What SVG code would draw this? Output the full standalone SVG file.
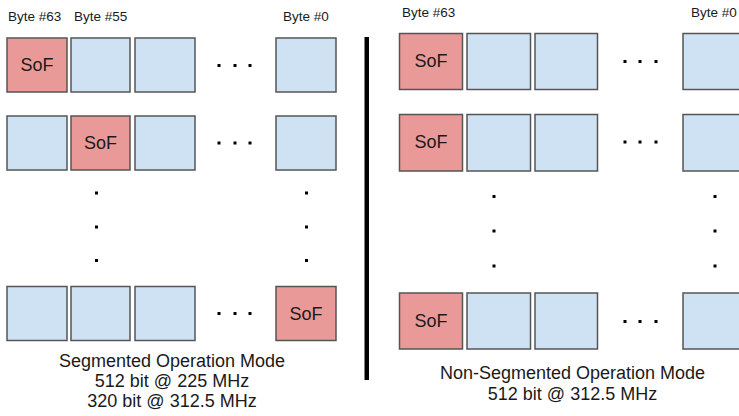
<svg xmlns="http://www.w3.org/2000/svg" width="739" height="416" viewBox="0 0 739 416">
<style>
  text { font-family: "Liberation Sans", Arial, sans-serif; fill: #1a1a1a; }
  .lbl { font-size: 13.5px; }
  .sof-t { font-size: 18px; text-anchor: middle; }
  .cap { font-size: 18px; text-anchor: middle; }
  .sof { fill: #ea9999; stroke: #555; stroke-width: 1.5; }
  .cell { fill: #cfe2f3; stroke: #555; stroke-width: 1.5; }
  .dot { fill: #000; }
</style>
<rect width="739" height="416" fill="#fff"/>

<!-- Left panel: Segmented -->
<g id="left-labels">
  <text class="lbl" x="8" y="21">Byte #63</text>
  <text class="lbl" x="74" y="21">Byte #55</text>
  <text class="lbl" x="283" y="21">Byte #0</text>
</g>
<g id="L-r1c1"><rect class="sof" x="7" y="38" width="60" height="54"/><text class="sof-t" x="37" y="71">SoF</text></g>
<g id="L-r1c2"><rect class="cell" x="71" y="38" width="59" height="54"/></g>
<g id="L-r1c3"><rect class="cell" x="135" y="38" width="60" height="54"/></g>
<g id="L-r1c4"><rect class="cell" x="276" y="38" width="60" height="54"/></g>

<g id="L-r2c1"><rect class="cell" x="7" y="116" width="60" height="54"/></g>
<g id="L-r2c2"><rect class="sof" x="71" y="116" width="59" height="54"/><text class="sof-t" x="100.5" y="149">SoF</text></g>
<g id="L-r2c3"><rect class="cell" x="135" y="116" width="60" height="54"/></g>
<g id="L-r2c4"><rect class="cell" x="276" y="116" width="60" height="54"/></g>

<g id="L-r3c1"><rect class="cell" x="7" y="286.5" width="60" height="54"/></g>
<g id="L-r3c2"><rect class="cell" x="71" y="286.5" width="59" height="54"/></g>
<g id="L-r3c3"><rect class="cell" x="135" y="286.5" width="60" height="54"/></g>
<g id="L-r3c4"><rect class="sof" x="276" y="286.5" width="60" height="54"/><text class="sof-t" x="306" y="319.5">SoF</text></g>

<g id="L-dots">
  <rect class="dot" x="217.5" y="64" width="3" height="3"/>
  <rect class="dot" x="233.5" y="64" width="3" height="3"/>
  <rect class="dot" x="248.5" y="64" width="3" height="3"/>
  <rect class="dot" x="217.5" y="141.5" width="3" height="3"/>
  <rect class="dot" x="233.5" y="141.5" width="3" height="3"/>
  <rect class="dot" x="248.5" y="141.5" width="3" height="3"/>
  <rect class="dot" x="217.5" y="312" width="3" height="3"/>
  <rect class="dot" x="233.5" y="312" width="3" height="3"/>
  <rect class="dot" x="248.5" y="312" width="3" height="3"/>
  <rect class="dot" x="95" y="191.5" width="3" height="3"/>
  <rect class="dot" x="95" y="225.5" width="3" height="3"/>
  <rect class="dot" x="95" y="259" width="3" height="3"/>
  <rect class="dot" x="305" y="191.5" width="3" height="3"/>
  <rect class="dot" x="305" y="225.5" width="3" height="3"/>
  <rect class="dot" x="305" y="259" width="3" height="3"/>
</g>
<g id="left-caption">
  <text class="cap" x="172" y="366.5">Segmented Operation Mode</text>
  <text class="cap" x="172" y="386.5">512 bit @ 225 MHz</text>
  <text class="cap" x="172" y="406.5">320 bit @ 312.5 MHz</text>
</g>

<!-- Divider -->
<g id="divider"><rect x="364.5" y="37" width="4.5" height="343" fill="#000"/></g>

<!-- Right panel: Non-Segmented -->
<g id="right-labels">
  <text class="lbl" x="402" y="16.5">Byte #63</text>
  <text class="lbl" x="691" y="16.5">Byte #0</text>
</g>
<g id="R-r1c1"><rect class="sof" x="399.5" y="33.5" width="63" height="56"/><text class="sof-t" x="431" y="67">SoF</text></g>
<g id="R-r1c2"><rect class="cell" x="467" y="33.5" width="63.5" height="56"/></g>
<g id="R-r1c3"><rect class="cell" x="535" y="33.5" width="62.5" height="56"/></g>
<g id="R-r1c4"><rect class="cell" x="683" y="33.5" width="63" height="56"/></g>

<g id="R-r2c1"><rect class="sof" x="399.5" y="114.5" width="63" height="56.5"/><text class="sof-t" x="431" y="148">SoF</text></g>
<g id="R-r2c2"><rect class="cell" x="467" y="114.5" width="63.5" height="56.5"/></g>
<g id="R-r2c3"><rect class="cell" x="535" y="114.5" width="62.5" height="56.5"/></g>
<g id="R-r2c4"><rect class="cell" x="683" y="114.5" width="63" height="56.5"/></g>

<g id="R-r3c1"><rect class="sof" x="399.5" y="293" width="63" height="56"/><text class="sof-t" x="431" y="326.5">SoF</text></g>
<g id="R-r3c2"><rect class="cell" x="467" y="293" width="63.5" height="56"/></g>
<g id="R-r3c3"><rect class="cell" x="535" y="293" width="62.5" height="56"/></g>
<g id="R-r3c4"><rect class="cell" x="683" y="293" width="63" height="56"/></g>

<g id="R-dots">
  <rect class="dot" x="623.5" y="60" width="3" height="3"/>
  <rect class="dot" x="638.5" y="60" width="3" height="3"/>
  <rect class="dot" x="654.5" y="60" width="3" height="3"/>
  <rect class="dot" x="623.5" y="140.5" width="3" height="3"/>
  <rect class="dot" x="638.5" y="140.5" width="3" height="3"/>
  <rect class="dot" x="654.5" y="140.5" width="3" height="3"/>
  <rect class="dot" x="623.5" y="320" width="3" height="3"/>
  <rect class="dot" x="638.5" y="320" width="3" height="3"/>
  <rect class="dot" x="654.5" y="320" width="3" height="3"/>
  <rect class="dot" x="492.5" y="195" width="3" height="3"/>
  <rect class="dot" x="492.5" y="229.5" width="3" height="3"/>
  <rect class="dot" x="492.5" y="264.5" width="3" height="3"/>
  <rect class="dot" x="713.5" y="195" width="3" height="3"/>
  <rect class="dot" x="713.5" y="229.5" width="3" height="3"/>
  <rect class="dot" x="713.5" y="264.5" width="3" height="3"/>
</g>
<g id="right-caption">
  <text class="cap" x="572.5" y="378.5">Non-Segmented Operation Mode</text>
  <text class="cap" x="572.5" y="399.5">512 bit @ 312.5 MHz</text>
</g>
</svg>
